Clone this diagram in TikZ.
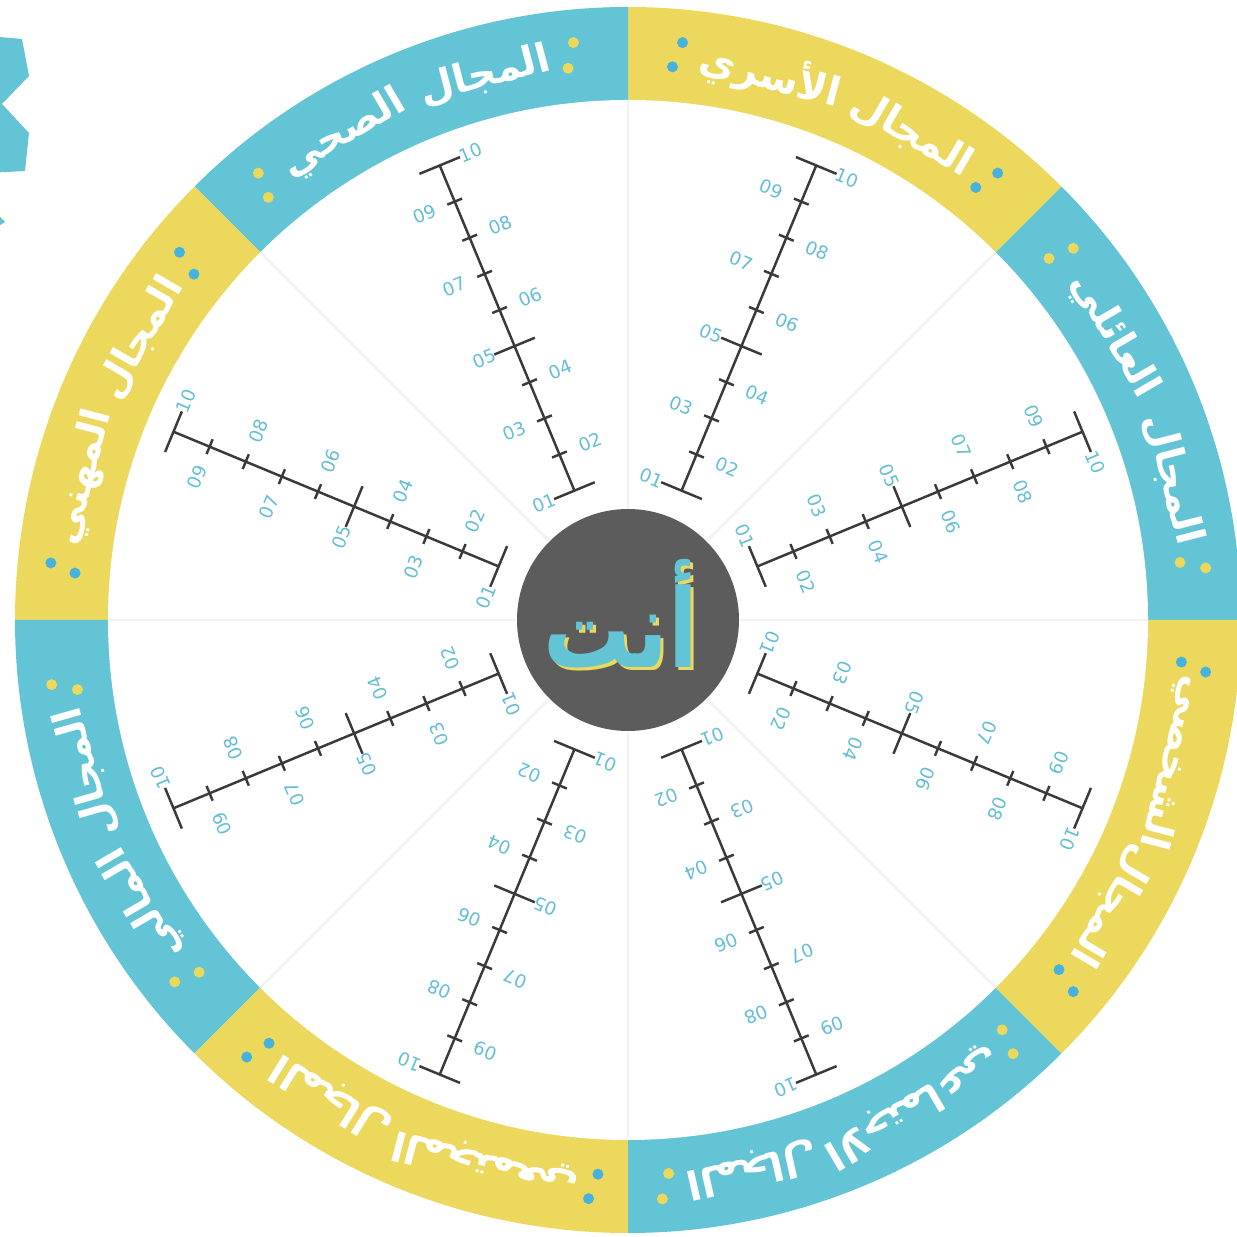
\documentclass[tikz,border=0pt]{standalone}
\usepackage{fontspec}
\setmainfont{DejaVu Sans}
\newfontfamily\arabicfont[Script=Arabic]{DejaVu Sans}
\TeXXeTstate=1

\definecolor{ringblue}{RGB}{98,196,212}
\definecolor{ringyellow}{RGB}{236,216,92}
\definecolor{dotblue}{RGB}{70,178,222}
\definecolor{hubgray}{RGB}{92,92,92}
\definecolor{scaleink}{RGB}{58,58,58}
\definecolor{numblue}{RGB}{100,190,212}

% one 45 degree sector of the outer ring
\newcommand\ringsector[2]{%
  \fill[#2] (0,0) -- (#1:613) arc[start angle=#1, delta angle=45, radius=613] -- cycle;}

% domain name on the ring: name, mid angle, dot colour, word 1, word 2,
% width of word 2 in degrees (word 1 is always about 13 degrees wide)
\newcommand\domain[6]{%
  \pgfmathsetmacro\posa{#2-(#6+2.6)/2}%
  \pgfmathsetmacro\posb{#2+(13+2.6)/2}%
  \pgfmathsetmacro\spread{(13+#6+2.6)/2+2.8}%
  \node[rotate=\posa-90, domword] (#1a) at (\posa:563) {\beginR #4\endR};
  \node[rotate=\posb-90, domword] (#1b) at (\posb:563) {\beginR #5\endR};
  \foreach \s in {-1,1}{
    \fill[#3] (#2+\s*\spread:580) circle[radius=5.5];
    \fill[#3] (#2+\s*\spread+0.8:555) circle[radius=5.5];
  }}

\begin{document}
\begin{tikzpicture}[x=0.01cm, y=0.01cm,
  domword/.style={text=white, inner sep=0pt,
                  font=\arabicfont\bfseries\fontsize{11.3}{11.3}\selectfont},
  hubword/.style={inner sep=0pt, xscale=0.8,
                  font=\arabicfont\bfseries\fontsize{31}{31}\selectfont},
  ticklbl/.style={text=numblue, inner sep=0pt, font=\fontsize{5.2}{5.2}\selectfont},
  scaleline/.style={draw=scaleink, line width=0.7pt},
  divider/.style={draw=black!5, line width=0.8pt},
]
\useasboundingbox (-628,-617) rectangle (608,620);
\fill[white] (-628,-617) rectangle (608,620);

% corner ornament
\fill[ringblue] (-640,584) -- (-606,581) -- (-599,544) -- (-626,516) -- (-599,487)
  -- (-603,449) -- (-640,447) -- cycle;
\fill[ringblue] (-640,416) -- (-623,398) -- (-640,387) -- cycle;

% outer ring
\foreach \a [count=\k from 0] in {0,45,...,315}{
  \ifodd\k \ringsector{\a}{ringyellow}\else \ringsector{\a}{ringblue}\fi
}
\fill[white] (0,0) circle[radius=520];

% faint sector borders
\foreach \a in {0,45,...,315}
  \draw[divider] (\a:112) -- (\a:520);

% the eight scales 01..10
\foreach \ang [count=\k] in {22.5,67.5,...,337.5}{
  \begin{scope}[rotate=\ang]
    \draw[scaleline] (140,0) coordinate (s\k-in) -- (492,0) coordinate (s\k-out);
    \foreach \i in {1,...,10}{
      \pgfmathsetmacro\rr{140+(\i-1)*39.11}
      \ifnum\i=1 \def\tk{22}\else\ifnum\i=5 \def\tk{22}\else\ifnum\i=10 \def\tk{22}\else\def\tk{8}\fi\fi\fi
      \draw[scaleline] (\rr,-\tk) -- (\rr,\tk);
      \ifodd\i
        \node[ticklbl, rotate=\ang-90] (n\k-\i) at (\rr,33) {0\i};
      \else
        \node[ticklbl, rotate=\ang-90] (n\k-\i) at (\rr,-33)
          {\ifnum\i<10 0\i\else\i\fi};
      \fi
    }
  \end{scope}
}

% domain names
\domain{dfam}{22.5}{ringyellow}{المجال}{العائلي}{13.5}
\domain{dhome}{67.5}{dotblue}{المجال}{الأسري}{13}
\domain{dhealth}{112.5}{ringyellow}{المجال}{الصحي}{13}
\domain{djob}{157.5}{dotblue}{المجال}{المهني}{12.5}
\domain{dmoney}{202.5}{ringyellow}{المجال}{المالي}{11}
\domain{dcity}{247.5}{dotblue}{المجال}{المجتمعي}{16}
\domain{dsoc}{292.5}{ringyellow}{المجال}{الاجتماعي}{17}
\domain{dself}{337.5}{dotblue}{المجال}{الشخصي}{13.5}

% hub
\fill[hubgray] (0,0) circle[radius=111];
\node[hubword, text=ringyellow] (you2) at (-4,3) {\beginR أنت\endR};
\node[hubword, text=ringblue] (you) at (-7,6) {\beginR أنت\endR};
\end{tikzpicture}
\end{document}
